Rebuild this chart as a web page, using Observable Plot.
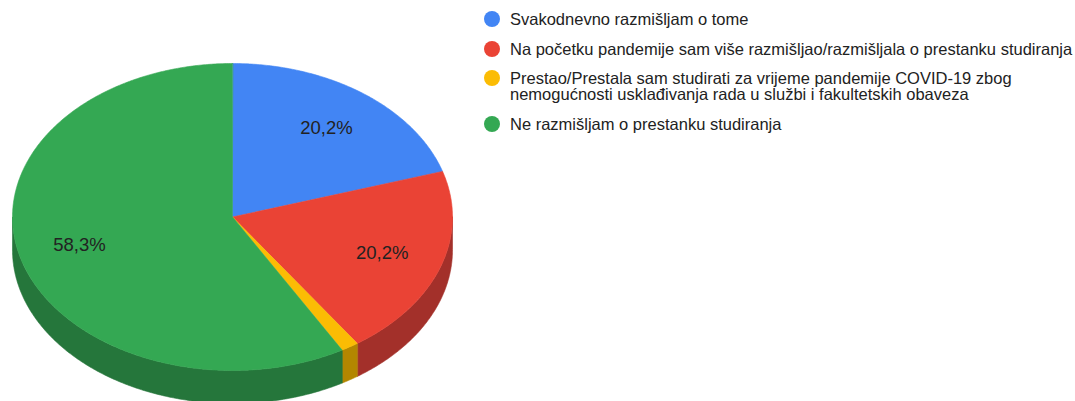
<!DOCTYPE html>
<html>
<head>
<meta charset="utf-8">
<script src="https://cdn.jsdelivr.net/npm/d3@7"></script>
<script src="https://cdn.jsdelivr.net/npm/@observablehq/plot@0.6"></script>
<style>
  html, body { margin: 0; padding: 0; background: #fff; }
  #wrap { position: relative; width: 1075px; height: 401px; overflow: hidden; font-family: "Liberation Sans", Arial, sans-serif; }
  #chart { position: absolute; left: 0; top: 0; }
  #legend { position: absolute; left: 484px; top: 11px; font-size: 16.5px; color: #222; }
  .item { display: flex; align-items: flex-start; margin-bottom: 13.5px; }
  .dot { width: 16px; height: 16px; border-radius: 50%; flex: none; margin-top: 0; margin-right: 10px; }
  .txt { line-height: 16px; max-width: 575px; }
</style>
</head>
<body>
<div id="wrap">
  <div id="chart"></div>
  <div id="legend"></div>
</div>
<script>
// ---- data ----
const categories = [
  "Svakodnevno razmišljam o tome",
  "Na početku pandemije sam više razmišljao/razmišljala o prestanku studiranja",
  "Prestao/Prestala sam studirati za vrijeme pandemije COVID-19 zbog nemogućnosti usklađivanja rada u službi i fakultetskih obaveza",
  "Ne razmišljam o prestanku studiranja"
];
const values = [20.2, 20.2, 1.3, 58.3];
const sliceLabels = ["20,2%", "20,2%", null, "58,3%"];
const colors = ["#4285f4", "#ea4335", "#fbbc04", "#34a853"];
const sideColors = ["#2e5fae", "#a3302a", "#b38600", "#25763b"];

// ---- geometry (unit ellipse in data space, clockwise from 12 o'clock) ----
const DEPTH = 0.215;          // side thickness in y data units
const LABEL_R = 0.72;
const STEP = Math.PI / 360;

const arcs = d3.pie().sort(null).value(d => d)(values);

function arcPts(a0, a1, dy = 0) {
  const pts = [];
  const n = Math.max(2, Math.ceil((a1 - a0) / STEP));
  for (let i = 0; i <= n; i++) {
    const t = a0 + (a1 - a0) * i / n;
    pts.push({x: Math.sin(t), y: -Math.cos(t) + dy});
  }
  return pts;
}

const tops = arcs.map(a => [{x: 0, y: 0}, ...arcPts(a.startAngle, a.endAngle)]);
const sides = arcs.map(a => {
  const s = Math.max(a.startAngle, Math.PI / 2);
  const e = Math.min(a.endAngle, 3 * Math.PI / 2);
  if (e <= s) return [];
  return [...arcPts(s, e), ...arcPts(s, e, DEPTH).reverse()];
});
const labelData = arcs.map((a, i) => {
  const m = (a.startAngle + a.endAngle) / 2;
  return {x: LABEL_R * Math.sin(m), y: -LABEL_R * Math.cos(m), text: sliceLabels[i]};
}).filter(d => d.text);

const marks = [];
sides.forEach((pts, i) => {
  if (pts.length) marks.push(Plot.line(pts, {x: "x", y: "y", curve: "linear-closed", fill: sideColors[i], stroke: sideColors[i], strokeWidth: 0.6}));
});
tops.forEach((pts, i) => {
  marks.push(Plot.line(pts, {x: "x", y: "y", curve: "linear-closed", fill: colors[i], stroke: colors[i], strokeWidth: 0.6}));
});
marks.push(Plot.text(labelData, {x: "x", y: "y", text: "text", fontSize: 18.5, fill: "#222"}));

const chart = Plot.plot({
  width: 470,
  height: 401,
  margin: 0,
  x: {domain: [-1, 1], range: [12, 452], axis: null},
  y: {domain: [-1, 1], range: [63, 370], axis: null},
  style: {fontFamily: "'Liberation Sans', Arial, sans-serif", background: "transparent", overflow: "visible"},
  marks
});
document.getElementById("chart").appendChild(chart);

// ---- legend ----
const legend = document.getElementById("legend");
categories.forEach((c, i) => {
  const item = document.createElement("div");
  item.className = "item";
  const dot = document.createElement("span");
  dot.className = "dot";
  dot.style.background = colors[i];
  const txt = document.createElement("span");
  txt.className = "txt";
  txt.textContent = c;
  item.appendChild(dot);
  item.appendChild(txt);
  legend.appendChild(item);
});
</script>
</body>
</html>
